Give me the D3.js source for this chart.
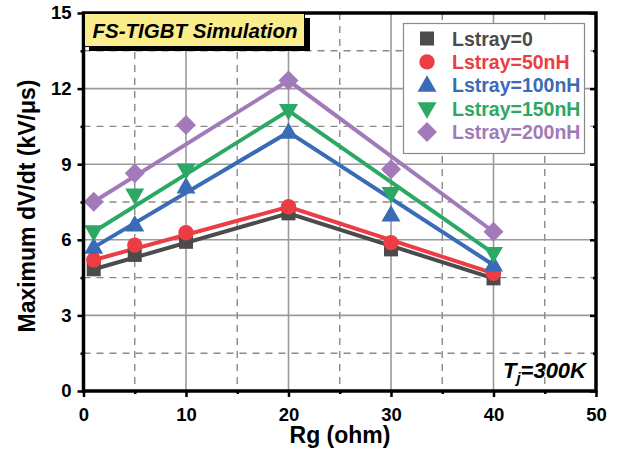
<!DOCTYPE html>
<html>
<head>
<meta charset="utf-8">
<script src="https://cdn.jsdelivr.net/npm/d3@7/dist/d3.min.js"></script>
<style>
  html, body { margin: 0; padding: 0; background: #fff; }
  svg { display: block; font-family: "Liberation Sans", Arial, sans-serif; }
</style>
</head>
<body>
<svg id="chart" width="622" height="455"></svg>
<script>
// Gate resistance (ohm) at which each simulation was run
const rg = [1, 5, 10, 20, 30, 40];

// Maximum dV/dt (kV/us) per stray inductance
const dvdt0   = [4.83, 5.40, 5.92, 7.05, 5.62, 4.47];
const dvdt50  = [5.20, 5.79, 6.28, 7.31, 5.89, 4.67];
const dvdt100 = [5.70, 6.59, 8.10, 10.27, 6.98, 5.00];
const dvdt150 = [6.32, 7.78, 8.77, 11.13, 7.84, 5.46];
const dvdt200 = [7.51, 8.64, 10.56, 12.32, 8.80, 6.32];

// Trend lines drawn through the outer points and the peak
const trendRg   = [1, 20, 40];
const trend0    = [4.83, 7.05, 4.47];
const trend50   = [5.20, 7.31, 4.67];
const trend100  = [5.70, 10.27, 5.00];
const trend150  = [6.32, 11.13, 5.46];
const trend200  = [7.51, 12.32, 6.32];

const seriesNames = ["Lstray=0", "Lstray=50nH", "Lstray=100nH", "Lstray=150nH", "Lstray=200nH"];
const xTicks = [0, 10, 20, 30, 40, 50];
const yTicks = [0, 3, 6, 9, 12, 15];
const xMinor = [5, 15, 25, 35, 45];
const yMinor = [1.5, 4.5, 7.5, 10.5, 13.5];

const colors = ["#4b4b4b", "#ec3d45", "#3a6bb6", "#2aa864", "#a27ab9"];
const shapes = ["square", "circle", "triangleUp", "triangleDown", "diamond"];

const trends = [trend0, trend50, trend100, trend150, trend200];
const series = [dvdt0, dvdt50, dvdt100, dvdt150, dvdt200].map((vals, i) => ({
  name: seriesNames[i],
  color: colors[i],
  shape: shapes[i],
  points: rg.map((x, j) => ({ x, y: vals[j] })),
  trend: trendRg.map((x, j) => ({ x, y: trends[i][j] }))
}));

const svg = d3.select("#chart");
const pLeft = 83.5, pRight = 596, pTop = 13, pBottom = 391;
const x = d3.scaleLinear().domain([0, 50]).range([pLeft, pRight]);
const y = d3.scaleLinear().domain([0, 15]).range([pBottom, pTop]);

// Grid: solid at major ticks, dashed at minor ticks
const grid = svg.append("g");
grid.selectAll(".vmaj").data(xTicks.slice(1, -1)).join("line")
  .attr("x1", d => x(d)).attr("x2", d => x(d)).attr("y1", pTop).attr("y2", pBottom)
  .attr("stroke", "#9a9a9a").attr("stroke-width", 1.6);
grid.selectAll(".hmaj").data(yTicks.slice(1, -1)).join("line")
  .attr("y1", d => y(d)).attr("y2", d => y(d)).attr("x1", pLeft).attr("x2", pRight)
  .attr("stroke", "#9a9a9a").attr("stroke-width", 1.6);
grid.selectAll(".vmin").data(xMinor).join("line")
  .attr("x1", d => x(d)).attr("x2", d => x(d)).attr("y1", pTop).attr("y2", pBottom)
  .attr("stroke", "#8a8a8a").attr("stroke-width", 1.4).attr("stroke-dasharray", "7,6");
grid.selectAll(".hmin").data(yMinor).join("line")
  .attr("y1", d => y(d)).attr("y2", d => y(d)).attr("x1", pLeft).attr("x2", pRight)
  .attr("stroke", "#8a8a8a").attr("stroke-width", 1.4).attr("stroke-dasharray", "7,6");

// Series lines
const line = d3.line().x(d => x(d.x)).y(d => y(d.y));
svg.append("g").selectAll("path").data(series).join("path")
  .attr("d", d => line(d.trend))
  .attr("fill", "none").attr("stroke", d => d.color).attr("stroke-width", 4)
  .attr("stroke-linejoin", "miter");

// Marker shapes
function markerPath(shape) {
  switch (shape) {
    case "square": return d3.symbol(d3.symbolSquare, 196)();
    case "circle": return d3.symbol(d3.symbolCircle, 185)();
    case "triangleUp": return "M0,-10L9.5,6.5L-9.5,6.5Z";
    case "triangleDown": return "M0,10L9.5,-6.5L-9.5,-6.5Z";
    case "diamond": return "M0,-10L10,0L0,10L-10,0Z";
  }
}
const marks = svg.append("g");
series.forEach(s => {
  marks.append("g").selectAll("path").data(s.points).join("path")
    .attr("d", markerPath(s.shape))
    .attr("transform", d => `translate(${x(d.x)},${y(d.y)})`)
    .attr("fill", s.color);
});

// Axes
const tickFont = g => g.selectAll("text")
  .attr("font-family", "Liberation Sans, Arial, sans-serif")
  .attr("font-weight", "bold").attr("font-size", 18.5).attr("fill", "#000");

const xAxis = svg.append("g").attr("transform", `translate(0,${pBottom})`)
  .call(d3.axisBottom(x).tickValues(xTicks).tickSize(6).tickSizeOuter(0).tickPadding(11));
xAxis.call(tickFont);
xAxis.selectAll(".tick line").attr("stroke-width", 2.5);
xAxis.select(".domain").remove();
svg.append("g").attr("transform", `translate(0,${pBottom})`)
  .call(d3.axisBottom(x).tickValues(xMinor).tickSize(3).tickFormat(""))
  .call(g => g.select(".domain").remove())
  .selectAll("line").attr("stroke-width", 2.5);

const yAxis = svg.append("g").attr("transform", `translate(${pLeft},0)`)
  .call(d3.axisLeft(y).tickValues(yTicks).tickSize(6).tickSizeOuter(0).tickPadding(6));
yAxis.call(tickFont);
yAxis.selectAll(".tick line").attr("stroke-width", 2.5);
yAxis.select(".domain").remove();
svg.append("g").attr("transform", `translate(${pLeft},0)`)
  .call(d3.axisLeft(y).tickValues(yMinor).tickSize(3).tickFormat(""))
  .call(g => g.select(".domain").remove())
  .selectAll("line").attr("stroke-width", 2.5);

// Right-hand inward ticks
svg.append("g").attr("transform", `translate(${pRight},0)`)
  .call(d3.axisLeft(y).tickValues(yTicks).tickSize(6).tickFormat(""))
  .call(g => g.select(".domain").remove())
  .selectAll("line").attr("stroke-width", 2.5);
svg.append("g").attr("transform", `translate(${pRight},0)`)
  .call(d3.axisLeft(y).tickValues(yMinor).tickSize(3).tickFormat(""))
  .call(g => g.select(".domain").remove())
  .selectAll("line").attr("stroke-width", 2.5);

// Frame
svg.append("rect").attr("x", pLeft).attr("y", pTop)
  .attr("width", pRight - pLeft).attr("height", pBottom - pTop)
  .attr("fill", "none").attr("stroke", "#000").attr("stroke-width", 3.5);

// Axis titles
svg.append("text").attr("x", 340).attr("y", 443)
  .attr("text-anchor", "middle").attr("font-weight", "bold").attr("font-size", 23)
  .text("Rg (ohm)");
svg.append("text").attr("transform", `translate(35,206) rotate(-90)`)
  .attr("text-anchor", "middle").attr("font-weight", "bold").attr("font-size", 23)
  .text("Maximum dV/dt (kV/\u03bcs)");

// Title tag with drop shadow
svg.append("rect").attr("x", 89).attr("y", 18).attr("width", 221).attr("height", 33).attr("fill", "#000");
svg.append("rect").attr("x", 84.5).attr("y", 13.5).attr("width", 220).attr("height", 33)
  .attr("fill", "#fbec8c").attr("stroke", "#000").attr("stroke-width", 1);
svg.append("text").attr("x", 195).attr("y", 37.5)
  .attr("text-anchor", "middle").attr("font-weight", "bold").attr("font-style", "italic")
  .attr("font-size", 20.5).text("FS-TIGBT Simulation");

// Junction temperature note
const tj = svg.append("text").attr("x", 586).attr("y", 378)
  .attr("text-anchor", "end").attr("font-weight", "bold").attr("font-style", "italic")
  .attr("font-size", 22);
tj.append("tspan").text("T");
tj.append("tspan").attr("font-size", 15).attr("dy", 5).text("j");
tj.append("tspan").attr("dy", -5).text("=300K");

// Legend
const lg = svg.append("g");
lg.append("rect").attr("x", 403.5).attr("y", 23.5).attr("width", 181).attr("height", 130)
  .attr("fill", "#fff").attr("stroke", "#8a8a8a").attr("stroke-width", 1.2);
series.forEach((s, i) => {
  const cy = 38.5 + i * 23.4;
  lg.append("path").attr("d", markerPath(s.shape))
    .attr("transform", `translate(427,${cy})`).attr("fill", s.color);
  lg.append("text").attr("x", 452).attr("y", cy + 7)
    .attr("font-weight", "bold").attr("font-size", 19.5).attr("fill", s.color)
    .text(s.name);
});
</script>
</body>
</html>
